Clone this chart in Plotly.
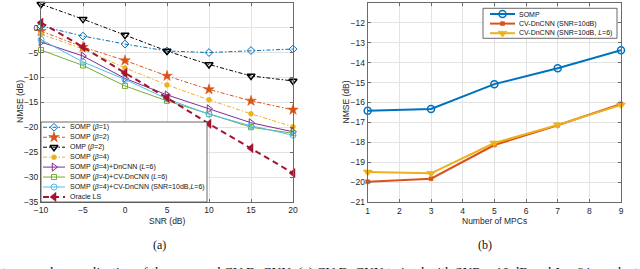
import plotly.graph_objects as go

# ---------------- data ----------------
snr = [-10, -5, 0, 5, 10, 15, 20]
somp_b1 = [0.3, -1.7, -3.3, -4.7, -5.0, -4.6, -4.3]
somp_b2 = [-0.7, -3.9, -6.6, -9.7, -12.4, -14.7, -16.5]
omp_b2 = [4.7, 1.7, -1.5, -4.7, -7.4, -9.7, -10.7]
somp_b4 = [-1.3, -4.3, -8.1, -11.5, -14.5, -17.3, -19.9]
somp_b4_dncnn = [-2.9, -5.7, -10.2, -13.5, -16.3, -19.1, -20.9]
somp_b4_cvdncnn = [-4.5, -7.6, -11.7, -14.7, -17.3, -20.0, -21.2]
somp_b4_cvdncnn_snr10 = [-2.4, -6.9, -10.4, -14.3, -17.4, -19.7, -21.6]
oracle_ls = [1.0, -3.9, -9.1, -14.1, -19.3, -24.2, -29.2]

mpcs = [1, 3, 5, 7, 9]
somp_mpc = [-16.41, -16.32, -15.08, -14.28, -13.38]
cvdncnn_snr10 = [-19.97, -19.82, -18.13, -17.14, -16.07]
cvdncnn_snr10_l6 = [-19.48, -19.55, -18.03, -17.12, -16.12]

snr_ticks = [-10, -5, 0, 5, 10, 15, 20]
nmse_ticks_a = [-35, -30, -25, -20, -15, -10, -5, 0, 5]
mpc_ticks = [1, 2, 3, 4, 5, 6, 7, 8, 9]
nmse_ticks_b = [-21, -20, -19, -18, -17, -16, -15, -14, -13, -12, -11]

names_a = ["SOMP (<i>β</i>=1)", "SOMP (<i>β</i>=2)", "OMP (<i>β</i>=2)", "SOMP (<i>β</i>=4)",
           "SOMP (<i>β</i>=4)+DnCNN (<i>L</i>=6)", "SOMP (<i>β</i>=4)+CV-DnCNN (<i>L</i>=6)",
           "SOMP (<i>β</i>=4)+CV-DnCNN (SNR=10dB,<i>L</i>=6)", "Oracle LS"]
names_b = ["SOMP", "CV-DnCNN (SNR=10dB)", "CV-DnCNN (SNR=10dB, <i>L</i>=6)"]

# ---------------- styles ----------------
W, H = 640, 269
DD = "4px,2px,1.5px,2px"
styles_a = [
    dict(color="#0072BD", dash=DD, width=1, symbol="diamond-open", size=6, mlw=1),
    dict(color="#D95319", dash=DD, width=1, symbol="star", size=8, mlw=0.5),
    dict(color="#000000", dash=DD, width=1, symbol="triangle-down-open", size=7, mlw=1.5),
    dict(color="#EDB120", dash=DD, width=1, symbol="circle", size=5, mlw=0.5),
    dict(color="#7E2F8E", dash="solid", width=1, symbol="triangle-right-open", size=7, mlw=1),
    dict(color="#77AC30", dash="solid", width=1, symbol="square-open", size=5, mlw=1),
    dict(color="#4DBEEE", dash="solid", width=1, symbol="circle-open", size=6, mlw=1),
    dict(color="#A2142F", dash="6px,4px", width=2, symbol="triangle-left", size=8, mlw=0.5),
]
styles_b = [
    dict(color="#0072BD", dash="solid", width=2, symbol="circle-open", size=7, mlw=1.5),
    dict(color="#D95319", dash="solid", width=2, symbol="square", size=4, mlw=0.5),
    dict(color="#EDB120", dash="solid", width=2, symbol="triangle-down", size=8, mlw=0.5),
]
series_a = [somp_b1, somp_b2, omp_b2, somp_b4, somp_b4_dncnn, somp_b4_cvdncnn,
            somp_b4_cvdncnn_snr10, oracle_ls]
series_b = [somp_mpc, cvdncnn_snr10, cvdncnn_snr10_l6]

fig = go.Figure()


def add_series(x, y, st, xa, ya):
    fig.add_trace(go.Scatter(
        x=x, y=y, mode="lines+markers", xaxis=xa, yaxis=ya, showlegend=False,
        line=dict(color=st["color"], dash=st["dash"], width=st["width"]),
        marker=dict(symbol=st["symbol"], size=st["size"], color=st["color"],
                    line=dict(color=st["color"], width=st["mlw"])),
        cliponaxis=False))


for ys, st in zip(series_a, styles_a):
    add_series(snr, ys, st, "x", "y")
for ys, st in zip(series_b, styles_b):
    add_series(mpcs, ys, st, "x2", "y2")

# ---------------- manual legends (pixel overlay axis) ----------------
annotations = []


def legend_box(x0, x1, y0, y1, rows, names, styles, sx0, sx1, tx):
    fig.add_trace(go.Scatter(x=[x0, x1, x1, x0, x0], y=[y0, y0, y1, y1, y0],
                             mode="lines", fill="toself", fillcolor="white",
                             line=dict(color="#444", width=0.8),
                             xaxis="x3", yaxis="y3", showlegend=False, hoverinfo="skip"))
    for r, nm, st in zip(rows, names, styles):
        fig.add_trace(go.Scatter(x=[sx0, sx1], y=[r, r], mode="lines",
                                 line=dict(color=st["color"], dash=st["dash"], width=st["width"]),
                                 xaxis="x3", yaxis="y3", showlegend=False, hoverinfo="skip"))
        fig.add_trace(go.Scatter(x=[(sx0 + sx1) / 2], y=[r], mode="markers",
                                 marker=dict(symbol=st["symbol"], size=st["size"], color=st["color"],
                                             line=dict(color=st["color"], width=st["mlw"])),
                                 xaxis="x3", yaxis="y3", showlegend=False, hoverinfo="skip"))
        annotations.append(dict(x=tx, y=r, xref="x3", yref="y3", text=nm, showarrow=False,
                                xanchor="left", yanchor="middle",
                                font=dict(size=7, color="#111")))


rows_a = [127.3 + 9.95 * i for i in range(8)]
legend_box(41, 207, 122, 202, rows_a, names_a, styles_a, 43, 65, 67.5)
rows_b = [14.0, 23.6, 33.2]
legend_box(483, 617, 8.3, 38.3, rows_b, names_b, styles_b, 490, 515, 516.5)

# ---------------- text (pixel coordinates on overlay axis) ----------------
tfont = dict(size=8.5, color="#262626")
serif = dict(family="Liberation Serif, Times New Roman", size=12, color="#111")
serif_cap = dict(family="Liberation Serif, Times New Roman", size=13.5, color="#111")


def txt(x, y, s, font, **kw):
    d = dict(x=x, y=y, xref="x3", yref="y3", text=s, showarrow=False,
             xanchor="center", yanchor="middle", font=font)
    d.update(kw)
    annotations.append(d)


txt(167, 220.5, "SNR (dB)", tfont)
txt(494, 221, "Number of MPCs", tfont)
txt(20, 102, "NMSE (dB)", tfont, textangle=-90)
txt(345.5, 102, "NMSE (dB)", tfont, textangle=-90)
txt(159, 245, "(a)", serif)
txt(485, 245, "(b)", serif)
txt(0, 261.5, "tance and generalization of the proposed CV-DnCNN: (a) CV-DnCNN trained with "
    "SNR = 10 dB and <i>L</i> = 6 is evaluated", serif_cap, xanchor="left", yanchor="top")

axis_common = dict(showline=True, mirror="ticks", linecolor="#6b6b6b", linewidth=1,
                   ticks="inside", ticklen=3, tickcolor="#6b6b6b", automargin=False,
                   showgrid=True, gridcolor="#e3e3e3", gridwidth=1, zeroline=False,
                   tickfont=dict(size=8.5, color="#262626"))

fig.update_layout(
    width=W, height=H, autosize=False,
    margin=dict(l=0, r=0, t=0, b=0, autoexpand=False),
    paper_bgcolor="white", plot_bgcolor="rgba(0,0,0,0)",
    font=dict(family="Liberation Sans, Arial, sans-serif"),
    showlegend=False,
    xaxis=dict(domain=[41 / W, 293 / W], range=[-10, 20], tickvals=snr_ticks, anchor="y",
               **axis_common),
    yaxis=dict(domain=[1 - 202 / H, 1 - 2.7 / H], range=[-35, 5], tickvals=nmse_ticks_a,
               anchor="x", **axis_common),
    xaxis2=dict(domain=[367.7 / W, 621 / W], range=[1, 9], tickvals=mpc_ticks, anchor="y2",
                **axis_common),
    yaxis2=dict(domain=[1 - 202.3 / H, 1 - 2.7 / H], range=[-21, -11], tickvals=nmse_ticks_b,
                anchor="x2", **axis_common),
    xaxis3=dict(domain=[0, 1], range=[0, W], visible=False, anchor="y3", fixedrange=True,
                automargin=False),
    yaxis3=dict(domain=[0, 1], range=[H, 0], visible=False, anchor="x3", fixedrange=True,
                automargin=False),
    annotations=annotations,
)

fig.write_html(
    "out.html",
    config={"displayModeBar": False},
    post_script=("document.documentElement.style.overflow='hidden';"
                 "document.body.style.margin='0';document.body.style.overflow='hidden';"
                 "var d=document.getElementById('{plot_id}');d.style.overflow='hidden';"),
)
